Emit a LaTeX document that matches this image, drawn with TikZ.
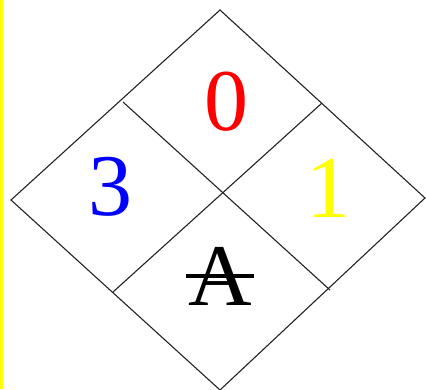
\documentclass[tikz,border=0pt]{standalone}
\usepackage{fontspec}
\setmainfont{Liberation Serif}
\usetikzlibrary{positioning}
\definecolor{HazBlue}{HTML}{0000FF}
\definecolor{HazRed}{HTML}{FF0000}
\definecolor{HazYellow}{HTML}{FFFF00}
\definecolor{HazLine}{HTML}{222222}

\begin{document}
\begin{tikzpicture}[x=1pt,y=-1pt,
  num/.style={inner sep=0pt,font=\fontsize{88}{88}\selectfont},
  edge/.style={draw=HazLine,line width=1.1pt}]
  \useasboundingbox (0,0) rectangle (426,389);
  \fill[HazYellow] (0,0) rectangle (2.5,389);
  % outer diamond
  \coordinate (top) at (220,10);
  \coordinate (lft) at (11,200);
  \coordinate (rgt) at (425,198);
  \coordinate (bot) at (220,390);
  \draw[edge] (top) -- (rgt) -- (bot) -- (lft) -- cycle;
  % inner cross
  \coordinate (tl) at (123,102);
  \coordinate (br) at (330,290);
  \coordinate (tr) at (322,103);
  \coordinate (bl) at (113,292);
  \draw[edge] (tl) -- (br);
  \draw[edge] (tr) -- (bl);
  % ratings
  \node[num,text=HazRed] (health) at (226,102) {0};
  \node[num,text=HazBlue] (fire) at (110,187) {3};
  \node[num,text=HazYellow] (react) at (328,188) {1};
  \node[num] (spec) at (220,276) {A};
  \draw[line width=3.2pt] ([xshift=-2pt]spec.west) -- ([xshift=2pt]spec.east);
\end{tikzpicture}
\end{document}
